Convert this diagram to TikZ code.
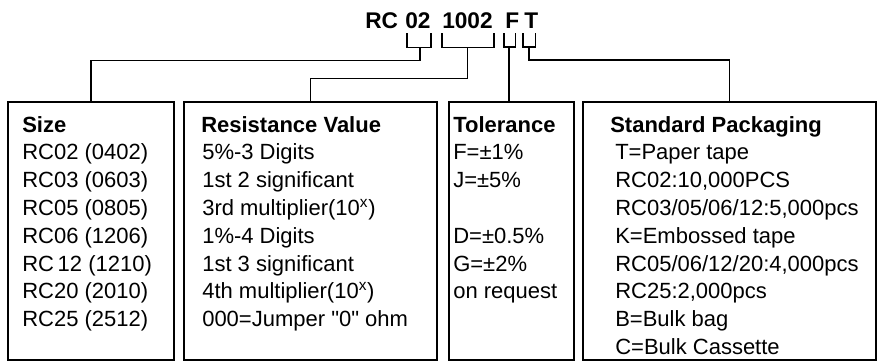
\documentclass[tikz,border=0pt]{standalone}
\usepackage{fontspec}
\setmainfont{Liberation Sans}[Ligatures=TeXOff]
\usetikzlibrary{positioning}
\tikzset{
  box/.style={
    draw,
    line width=2pt,
    minimum height=193.5pt,
    inner sep=0pt
  },
  link/.style={
    line width=1.3pt
  },
  code/.style={
    anchor=base west,
    font=\fontsize{17}{20}\selectfont\bfseries,
    inner sep=0pt
  },
  head/.style={
    anchor=base west,
    font=\fontsize{16.5}{19}\selectfont\bfseries,
    inner sep=0pt
  },
  entry/.style={
    anchor=base west,
    font=\fontsize{16.5}{19}\selectfont,
    inner sep=0pt
  }
}

\begin{document}
\begin{tikzpicture}[x=0.75pt,y=-0.75pt]
    \useasboundingbox (0,0) rectangle (880,362);
    % part number
    \node[code] (cRC) at (365,28) {RC};
    \node[code] (c02) at (405,28) {02};
    \node[code] (c1002) at (442,28) {1002};
    \node[code] (cF) at (505,28) {F};
    \node[code] (cT) at (524,28) {T};
    % brackets under the fields
    \draw[link] ([shift={(2,5)}]c02.south west) |- ([shift={(0,19)}]c02.south east) -- ++(0,-14);
    \draw[link] ([shift={(0,5)}]c1002.south west) |- ([shift={(1,19)}]c1002.south east) -- ++(0,-14);
    \draw[link] ([shift={(-1,5)}]cF.south west) |- ([shift={(-4,19)}]cF.south east) -- ++(0,-14);
    \draw[link] ([shift={(-1,5)}]cT.south west) |- ([shift={(-3,19)}]cT.south east) -- ++(0,-14);
    \coordinate (k02) at ([shift={(2,19)}]c02.south);
    \coordinate (k1002) at ([shift={(0,19)}]c1002.south);
    \coordinate (kF) at ([shift={(-3,19)}]cF.south);
    \coordinate (kT) at ([shift={(-2,19)}]cT.south);
    % boxes
    \node[box, minimum width=124.5pt] (sizebox) at (91,231) {};
    \node[box, minimum width=189.75pt] (resbox) at (310.5,231) {};
    \node[box, minimum width=93.75pt] (tolbox) at (511.5,231) {};
    \node[box, minimum width=219.75pt] (packbox) at (729.5,231) {};
    % leaders
    \draw[link] (k02) -- ++(0,13) -| (sizebox.north);
    \draw[link] (k1002) -- ++(0,31) -| (resbox.north);
    \draw[link] (kF) -- (kF |- tolbox.north);
    \draw[link] (kT) -- ++(0,13) -| (packbox.north);
    % size
    \node[head] (sizehead) at (22,132) {Size};
    \foreach \txt [count=\i] in {{RC02 (0402)},{RC03 (0603)},{RC05 (0805)},{RC06 (1206)},{RC\,12 (1210)},{RC20 (2010)},{RC25 (2512)}}
        \node[entry] (size\i) at (22,132+27.8*\i) {\txt};
    % resistance value
    \node[head] (reshead) at (201,132) {Resistance Value};
    \foreach \txt [count=\i] in {{5\%-3 Digits},{1st 2 significant},{3rd multiplier(10\textsuperscript{x})},{1\%-4 Digits},{1st 3 significant},{4th multiplier(10\textsuperscript{x})},{000=Jumper "0" ohm}}
        \node[entry] (res\i) at (202,132+27.8*\i) {\txt};
    % tolerance
    \node[head] (tolhead) at (453,132) {Tolerance};
    \foreach \txt/\i in {{F=±1\%}/1,{J=±5\%}/2,{D=±0.5\%}/4,{G=±2\%}/5,{on request}/6}
        \node[entry] (tol\i) at (453,132+27.8*\i) {\txt};
    % packaging
    \node[head] (packhead) at (610,132) {Standard Packaging};
    \foreach \txt [count=\i] in {{T=Paper tape},{RC02:10,000PCS},{RC03/05/06/12:5,000pcs},{K=Embossed tape},{RC05/06/12/20:4,000pcs},{RC25:2,000pcs},{B=Bulk bag},{C=Bulk Cassette}}
        \node[entry] (pack\i) at (615,132+27.8*\i) {\txt};
\end{tikzpicture}
\end{document}
